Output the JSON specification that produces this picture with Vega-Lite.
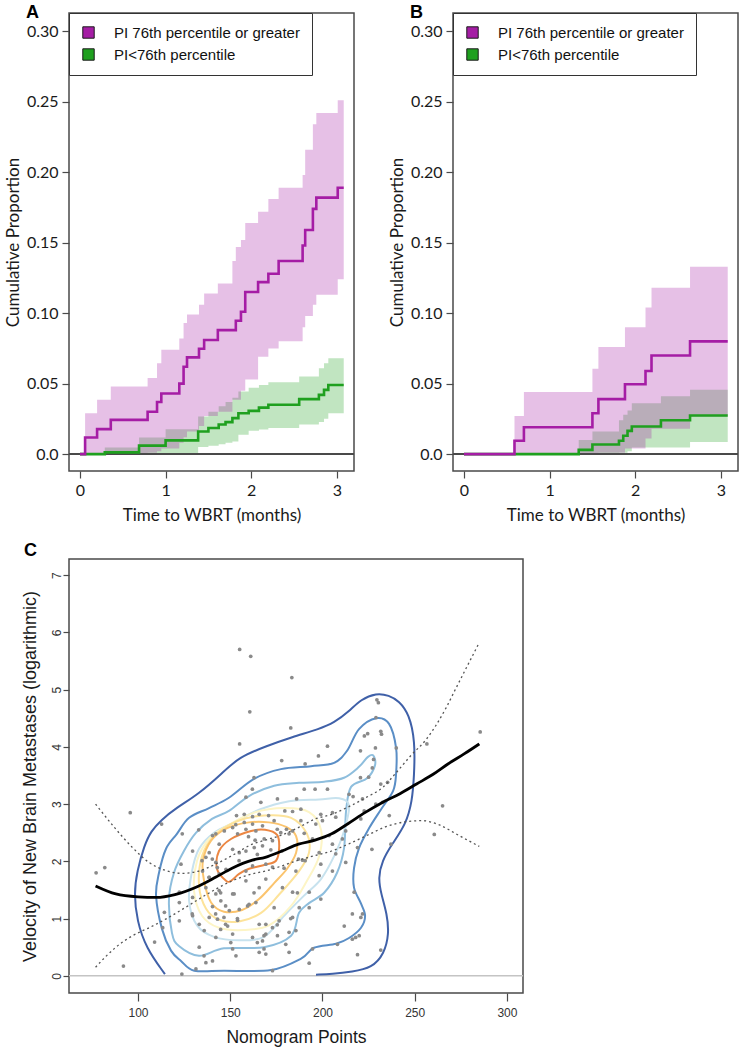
{
  "$schema": "https://vega.github.io/schema/vega-lite/v6.json",
  "background": "white",
  "padding": {"left": 3, "top": 2, "right": 2, "bottom": 2},
  "config": {
    "view": {"stroke": "#4a4a4a", "strokeWidth": 1.5},
    "axis": {"grid": false, "domain": false, "tickColor": "#4a4a4a", "tickWidth": 1.2, "labelColor": "#1a1a1a", "titleColor": "#1a1a1a", "titleFontWeight": "normal", "labelFlush": false, "labelOverlap": false},
    "title": {"fontWeight": "bold", "fontSize": 18, "font": "Liberation Sans", "color": "#000000", "anchor": "start", "frame": "group"},
    "legend": {"orient": "top-left", "offset": 0, "padding": 12, "strokeColor": "#333333", "fillColor": "white", "symbolType": "square", "symbolSize": 130, "symbolStrokeColor": "#1a1a1a", "symbolStrokeWidth": 1, "symbolOpacity": 1, "labelFont": "Liberation Sans", "labelFontSize": 15, "labelColor": "#111111", "labelLimit": 400, "rowPadding": 5, "labelOffset": 18}
  },
  "datasets": {
    "kmA": [
      {"g": "PI<76th percentile", "t": 0, "e": 0, "lo": 0, "hi": 0},
      {"g": "PI<76th percentile", "t": 0.29, "e": 0.0012, "lo": 0, "hi": 0.0047},
      {"g": "PI<76th percentile", "t": 0.69, "e": 0.006, "lo": 0, "hi": 0.0118},
      {"g": "PI<76th percentile", "t": 1.0, "e": 0.0097, "lo": 0, "hi": 0.0177},
      {"g": "PI<76th percentile", "t": 1.38, "e": 0.016, "lo": 0.005, "hi": 0.0267},
      {"g": "PI<76th percentile", "t": 1.5, "e": 0.0185, "lo": 0.006, "hi": 0.03},
      {"g": "PI<76th percentile", "t": 1.62, "e": 0.021, "lo": 0.007, "hi": 0.034},
      {"g": "PI<76th percentile", "t": 1.7, "e": 0.0227, "lo": 0.008, "hi": 0.037},
      {"g": "PI<76th percentile", "t": 1.78, "e": 0.0255, "lo": 0.009, "hi": 0.04},
      {"g": "PI<76th percentile", "t": 1.85, "e": 0.029, "lo": 0.0137, "hi": 0.0444},
      {"g": "PI<76th percentile", "t": 1.97, "e": 0.0307, "lo": 0.0165, "hi": 0.047},
      {"g": "PI<76th percentile", "t": 2.09, "e": 0.033, "lo": 0.0175, "hi": 0.049},
      {"g": "PI<76th percentile", "t": 2.2, "e": 0.035, "lo": 0.0185, "hi": 0.051},
      {"g": "PI<76th percentile", "t": 2.56, "e": 0.039, "lo": 0.021, "hi": 0.055},
      {"g": "PI<76th percentile", "t": 2.79, "e": 0.042, "lo": 0.0227, "hi": 0.061},
      {"g": "PI<76th percentile", "t": 2.85, "e": 0.0456, "lo": 0.025, "hi": 0.0645},
      {"g": "PI<76th percentile", "t": 2.9, "e": 0.049, "lo": 0.029, "hi": 0.068},
      {"g": "PI<76th percentile", "t": 3.08, "e": 0.049, "lo": 0.029, "hi": 0.068},
      {"g": "PI 76th percentile or greater", "t": 0, "e": 0, "lo": 0, "hi": 0},
      {"g": "PI 76th percentile or greater", "t": 0.06, "e": 0.0118, "lo": 0, "hi": 0.029},
      {"g": "PI 76th percentile or greater", "t": 0.2, "e": 0.0177, "lo": 0, "hi": 0.0385},
      {"g": "PI 76th percentile or greater", "t": 0.36, "e": 0.0243, "lo": 0, "hi": 0.048},
      {"g": "PI 76th percentile or greater", "t": 0.79, "e": 0.03, "lo": 0.001, "hi": 0.054},
      {"g": "PI 76th percentile or greater", "t": 0.9, "e": 0.037, "lo": 0.002, "hi": 0.0645},
      {"g": "PI 76th percentile or greater", "t": 0.95, "e": 0.043, "lo": 0.004, "hi": 0.074},
      {"g": "PI 76th percentile or greater", "t": 1.16, "e": 0.05, "lo": 0.008, "hi": 0.082},
      {"g": "PI 76th percentile or greater", "t": 1.21, "e": 0.062, "lo": 0.012, "hi": 0.093},
      {"g": "PI 76th percentile or greater", "t": 1.25, "e": 0.0686, "lo": 0.016, "hi": 0.099},
      {"g": "PI 76th percentile or greater", "t": 1.39, "e": 0.0747, "lo": 0.02, "hi": 0.106},
      {"g": "PI 76th percentile or greater", "t": 1.45, "e": 0.081, "lo": 0.027, "hi": 0.114},
      {"g": "PI 76th percentile or greater", "t": 1.61, "e": 0.088, "lo": 0.03, "hi": 0.121},
      {"g": "PI 76th percentile or greater", "t": 1.78, "e": 0.088, "lo": 0.0385, "hi": 0.137},
      {"g": "PI 76th percentile or greater", "t": 1.82, "e": 0.0946, "lo": 0.0385, "hi": 0.147},
      {"g": "PI 76th percentile or greater", "t": 1.88, "e": 0.101, "lo": 0.045, "hi": 0.152},
      {"g": "PI 76th percentile or greater", "t": 1.93, "e": 0.115, "lo": 0.053, "hi": 0.164},
      {"g": "PI 76th percentile or greater", "t": 2.08, "e": 0.122, "lo": 0.069, "hi": 0.172},
      {"g": "PI 76th percentile or greater", "t": 2.2, "e": 0.128, "lo": 0.075, "hi": 0.181},
      {"g": "PI 76th percentile or greater", "t": 2.32, "e": 0.137, "lo": 0.08, "hi": 0.189},
      {"g": "PI 76th percentile or greater", "t": 2.6, "e": 0.148, "lo": 0.09, "hi": 0.198},
      {"g": "PI 76th percentile or greater", "t": 2.63, "e": 0.159, "lo": 0.098, "hi": 0.216},
      {"g": "PI 76th percentile or greater", "t": 2.72, "e": 0.174, "lo": 0.106, "hi": 0.234},
      {"g": "PI 76th percentile or greater", "t": 2.76, "e": 0.182, "lo": 0.113, "hi": 0.242},
      {"g": "PI 76th percentile or greater", "t": 3.01, "e": 0.189, "lo": 0.124, "hi": 0.251},
      {"g": "PI 76th percentile or greater", "t": 3.08, "e": 0.189, "lo": 0.124, "hi": 0.251}
    ],
    "kmB": [
      {"g": "PI<76th percentile", "t": 0, "e": 0, "lo": 0, "hi": 0},
      {"g": "PI<76th percentile", "t": 1.34, "e": 0.003, "lo": 0, "hi": 0.01},
      {"g": "PI<76th percentile", "t": 1.5, "e": 0.0068, "lo": 0, "hi": 0.016},
      {"g": "PI<76th percentile", "t": 1.81, "e": 0.0095, "lo": 0.001, "hi": 0.024},
      {"g": "PI<76th percentile", "t": 1.86, "e": 0.013, "lo": 0.001, "hi": 0.028},
      {"g": "PI<76th percentile", "t": 1.91, "e": 0.0165, "lo": 0.002, "hi": 0.031},
      {"g": "PI<76th percentile", "t": 1.96, "e": 0.0196, "lo": 0.0047, "hi": 0.036},
      {"g": "PI<76th percentile", "t": 2.3, "e": 0.024, "lo": 0.0047, "hi": 0.041},
      {"g": "PI<76th percentile", "t": 2.64, "e": 0.0274, "lo": 0.0085, "hi": 0.0456},
      {"g": "PI<76th percentile", "t": 3.08, "e": 0.0274, "lo": 0.0085, "hi": 0.0456},
      {"g": "PI 76th percentile or greater", "t": 0, "e": 0, "lo": 0, "hi": 0},
      {"g": "PI 76th percentile or greater", "t": 0.59, "e": 0.0095, "lo": 0, "hi": 0.027},
      {"g": "PI 76th percentile or greater", "t": 0.7, "e": 0.019, "lo": 0, "hi": 0.044},
      {"g": "PI 76th percentile or greater", "t": 1.5, "e": 0.029, "lo": 0, "hi": 0.0605},
      {"g": "PI 76th percentile or greater", "t": 1.57, "e": 0.039, "lo": 0.001, "hi": 0.076},
      {"g": "PI 76th percentile or greater", "t": 1.88, "e": 0.0496, "lo": 0.004, "hi": 0.09},
      {"g": "PI 76th percentile or greater", "t": 2.12, "e": 0.059, "lo": 0.011, "hi": 0.104},
      {"g": "PI 76th percentile or greater", "t": 2.19, "e": 0.07, "lo": 0.018, "hi": 0.118},
      {"g": "PI 76th percentile or greater", "t": 2.64, "e": 0.08, "lo": 0.0267, "hi": 0.133},
      {"g": "PI 76th percentile or greater", "t": 3.08, "e": 0.08, "lo": 0.0267, "hi": 0.133}
    ],
    "pts": [
      {"x":158.5,"y":3.12},{"x":166.6,"y":3.03},{"x":175.6,"y":3.09},{"x":190.1,"y":3.26},{"x":196,"y":3.26},{"x":202.7,"y":3.26},{"x":214.4,"y":3.17},{"x":216.6,"y":3.13},{"x":221.7,"y":3.09},
      {"x":153.4,"y":2.8},{"x":157.6,"y":2.82},{"x":162.1,"y":2.78},{"x":165.7,"y":2.82},{"x":170.8,"y":2.8},{"x":179.6,"y":2.88},{"x":183.8,"y":2.87},{"x":188.3,"y":2.91},{"x":199.1,"y":2.82},{"x":205.4,"y":2.85},{"x":207.2,"y":2.77},{"x":222.6,"y":2.88},
      {"x":112.8,"y":2.65},{"x":132.9,"y":2.55},{"x":142.2,"y":2.48},{"x":146.8,"y":2.53},{"x":151.3,"y":2.59},{"x":157.6,"y":2.68},{"x":162.1,"y":2.65},{"x":158.5,"y":2.56},{"x":163.9,"y":2.53},{"x":167.5,"y":2.62},{"x":173.8,"y":2.71},{"x":180.5,"y":2.56},{"x":183.8,"y":2.53},{"x":188.3,"y":2.71},{"x":196.4,"y":2.65},{"x":200,"y":2.71},{"x":212.6,"y":2.53},
      {"x":124,"y":2.48},{"x":140.4,"y":2.45},{"x":144,"y":2.3},{"x":154,"y":2.48},{"x":159.9,"y":2.43},{"x":163.5,"y":2.37},{"x":168.4,"y":2.39},{"x":172.9,"y":2.36},{"x":177.4,"y":2.5},{"x":181.9,"y":2.48},{"x":190.1,"y":2.49},{"x":194.6,"y":2.39},{"x":203.6,"y":2.45},{"x":205.4,"y":2.3},{"x":210.8,"y":2.39},
      {"x":129.6,"y":2.18},{"x":134.7,"y":2.01},{"x":136.8,"y":2.07},{"x":138.6,"y":2.15},{"x":142.2,"y":1.98},{"x":151.3,"y":2.21},{"x":154.9,"y":2.15},{"x":158.5,"y":2.18},{"x":163,"y":2.24},{"x":167.5,"y":2.27},{"x":172,"y":2.2},{"x":178,"y":2.18},{"x":187,"y":2.04},{"x":189.2,"y":2.02},{"x":190.6,"y":2.01},{"x":198.2,"y":2.15},{"x":199.1,"y":1.95},{"x":207.2,"y":2.13},{"x":212.6,"y":1.98},{"x":219,"y":2.24},
      {"x":77.3,"y":1.8},{"x":82,"y":1.89},{"x":123.3,"y":1.95},{"x":135,"y":1.83},{"x":138.6,"y":1.72},{"x":144,"y":1.78},{"x":147.7,"y":1.86},{"x":158.5,"y":1.83},{"x":162.1,"y":1.92},{"x":169.3,"y":1.95},{"x":172.9,"y":1.9},{"x":179.2,"y":1.88},{"x":185.6,"y":1.83},{"x":198.2,"y":1.75},{"x":205.4,"y":1.83},
      {"x":122.4,"y":1.46},{"x":136.8,"y":1.54},{"x":142.2,"y":1.43},{"x":144,"y":1.49},{"x":151.3,"y":1.43},{"x":158.5,"y":1.66},{"x":165.7,"y":1.54},{"x":178.3,"y":1.54},{"x":183.8,"y":1.46},{"x":192.8,"y":1.46},{"x":199.1,"y":1.34},
      {"x":122.4,"y":1.28},{"x":129.6,"y":1.37},{"x":140.4,"y":1.21},{"x":144.9,"y":1.31},{"x":149.5,"y":1.14},{"x":154.9,"y":1.16},{"x":159.4,"y":1.22},{"x":163.9,"y":1.28},{"x":173.8,"y":1.19},{"x":187.4,"y":1.19},{"x":192.8,"y":1.19},{"x":221.7,"y":1.08},
      {"x":114.3,"y":1.11},{"x":122.4,"y":0.96},{"x":129.6,"y":1.05},{"x":133.2,"y":0.9},{"x":138.6,"y":1.02},{"x":143.1,"y":0.99},{"x":148.6,"y":0.87},{"x":154,"y":0.97},{"x":165.7,"y":0.9},{"x":169.3,"y":0.9},{"x":176.5,"y":0.96},{"x":183.8,"y":1.02},{"x":216.2,"y":1.08},{"x":220.8,"y":1.02},
      {"x":113.4,"y":0.84},{"x":109,"y":0.59},{"x":135.9,"y":0.79},{"x":142.2,"y":0.67},{"x":151.3,"y":0.73},{"x":162.1,"y":0.67},{"x":169.3,"y":0.73},{"x":172.9,"y":0.84},{"x":175.6,"y":0.7},{"x":181.9,"y":0.76},{"x":185.6,"y":0.79},{"x":218,"y":0.67},{"x":219.9,"y":0.7},
      {"x":92.1,"y":0.17},{"x":133.2,"y":0.5},{"x":136.8,"y":0.23},{"x":140.4,"y":0.26},{"x":151.3,"y":0.47},{"x":153.1,"y":0.35},{"x":165.7,"y":0.41},{"x":169.3,"y":0.38},{"x":167.5,"y":0.61},{"x":180.1,"y":0.55},{"x":192.8,"y":0.22},{"x":194.6,"y":0.47},{"x":208.1,"y":0.55},{"x":216.2,"y":0.64},
      {"x":123.8,"y":0.03},{"x":131.4,"y":0.12},{"x":172.9,"y":0.09},{"x":95.8,"y":2.85},
      {"x":231.6,"y":3.35},{"x":235.3,"y":3.38},{"x":228.9,"y":3.0},{"x":232.5,"y":3.03},{"x":236.2,"y":2.8},{"x":265.1,"y":2.97},{"x":260.6,"y":2.47},{"x":237.1,"y":2.3},{"x":226.8,"y":2.21},{"x":231.6,"y":0.45},{"x":211.8,"y":0.87},{"x":217.2,"y":1.46},{"x":219,"y":0.37},
      {"x":229.5,"y":4.82},{"x":230.3,"y":4.77},{"x":229,"y":4.51},{"x":222.7,"y":4.19},{"x":224.5,"y":4.23},{"x":231.6,"y":4.27},{"x":232,"y":4.22},{"x":202.7,"y":4.01},{"x":220.6,"y":3.93},{"x":228.7,"y":3.98},{"x":197.8,"y":3.84},{"x":190.6,"y":3.7},{"x":227.7,"y":3.78},{"x":227,"y":3.63},{"x":240,"y":3.98},{"x":256.6,"y":4.05},{"x":285.5,"y":4.26},{"x":220.6,"y":3.46},{"x":225,"y":3.47},
      {"x":155.1,"y":5.7},{"x":161.1,"y":5.58},{"x":183.4,"y":5.21},{"x":160.6,"y":4.61},{"x":182.8,"y":4.33},{"x":155.1,"y":4.05},{"x":177.9,"y":3.76},{"x":162.9,"y":3.46},{"x":162,"y":3.26},
      {"x":147.5,"y":0.9},{"x":144.8,"y":0.81},{"x":146.6,"y":1.02},{"x":142.1,"y":1.08},{"x":147.5,"y":1.22},{"x":135.8,"y":0.35},{"x":140.3,"y":2.04},{"x":143,"y":1.89},{"x":138.5,"y":1.72},{"x":144.8,"y":1.45},{"x":129.4,"y":1.08},
      {"x":164.7,"y":2.12},{"x":154.8,"y":2.01},{"x":169.3,"y":1.69},{"x":186.4,"y":1.45},{"x":152.1,"y":1.43},{"x":162.9,"y":1.45},{"x":160.2,"y":1.25},{"x":153.9,"y":1.0},{"x":175.5,"y":0.89},{"x":168.3,"y":0.7},{"x":164.7,"y":0.58},{"x":150.3,"y":0.58},{"x":168.3,"y":0.47},{"x":181.9,"y":0.41},{"x":182.8,"y":1.0},
      {"x":186,"y":3.09},{"x":153,"y":2.64},{"x":175.5,"y":2.56},{"x":220.8,"y":2.74}
    ],
    "fit": [
      {"s":"fit","x":77,"y":1.57},{"s":"fit","x":88,"y":1.43},{"s":"fit","x":100,"y":1.38},{"s":"fit","x":110,"y":1.37},{"s":"fit","x":120,"y":1.42},{"s":"fit","x":133,"y":1.57},{"s":"fit","x":142,"y":1.72},{"s":"fit","x":151,"y":1.88},{"s":"fit","x":162,"y":2.02},{"s":"fit","x":169,"y":2.07},{"s":"fit","x":178,"y":2.18},{"s":"fit","x":187,"y":2.3},{"s":"fit","x":196,"y":2.37},{"s":"fit","x":205,"y":2.48},{"s":"fit","x":214,"y":2.66},{"s":"fit","x":223,"y":2.85},{"s":"fit","x":232,"y":3.02},{"s":"fit","x":242,"y":3.18},{"s":"fit","x":251,"y":3.35},{"s":"fit","x":260,"y":3.52},{"s":"fit","x":268,"y":3.7},{"s":"fit","x":277,"y":3.88},{"s":"fit","x":285,"y":4.05},
      {"s":"hi","x":77,"y":3.0},{"s":"hi","x":87,"y":2.6},{"s":"hi","x":97,"y":2.24},{"s":"hi","x":106,"y":1.98},{"s":"hi","x":115,"y":1.84},{"s":"hi","x":124,"y":1.79},{"s":"hi","x":133,"y":1.83},{"s":"hi","x":142,"y":1.95},{"s":"hi","x":151,"y":2.1},{"s":"hi","x":162,"y":2.3},{"s":"hi","x":169,"y":2.37},{"s":"hi","x":178,"y":2.46},{"s":"hi","x":187,"y":2.59},{"s":"hi","x":196,"y":2.74},{"s":"hi","x":205,"y":2.82},{"s":"hi","x":214,"y":2.95},{"s":"hi","x":224,"y":3.12},{"s":"hi","x":233,"y":3.3},{"s":"hi","x":240,"y":3.55},{"s":"hi","x":248,"y":3.85},{"s":"hi","x":256,"y":4.12},{"s":"hi","x":262,"y":4.4},{"s":"hi","x":267,"y":4.68},{"s":"hi","x":272,"y":5.0},{"s":"hi","x":278,"y":5.38},{"s":"hi","x":285,"y":5.82},
      {"s":"lo","x":77,"y":0.15},{"s":"lo","x":88,"y":0.5},{"s":"lo","x":97,"y":0.7},{"s":"lo","x":106,"y":0.84},{"s":"lo","x":115,"y":0.99},{"s":"lo","x":124,"y":1.16},{"s":"lo","x":133,"y":1.34},{"s":"lo","x":142,"y":1.51},{"s":"lo","x":151,"y":1.66},{"s":"lo","x":162,"y":1.78},{"s":"lo","x":169,"y":1.83},{"s":"lo","x":178,"y":1.92},{"s":"lo","x":187,"y":2.02},{"s":"lo","x":196,"y":2.1},{"s":"lo","x":205,"y":2.18},{"s":"lo","x":214,"y":2.3},{"s":"lo","x":224,"y":2.45},{"s":"lo","x":234,"y":2.6},{"s":"lo","x":245,"y":2.69},{"s":"lo","x":254,"y":2.71},{"s":"lo","x":263,"y":2.64},{"s":"lo","x":274,"y":2.45},{"s":"lo","x":285,"y":2.26}
    ],
    "cont": [
      {"l":1,"o":1,"x":114.6,"y":0.03},{"l":1,"o":2,"x":104.3,"y":0.49},{"l":1,"o":3,"x":99.5,"y":0.96},{"l":1,"o":4,"x":97.8,"y":1.43},{"l":1,"o":5,"x":99.5,"y":1.83},{"l":1,"o":6,"x":103.3,"y":2.27},{"l":1,"o":7,"x":107.1,"y":2.53},{"l":1,"o":8,"x":112.5,"y":2.72},{"l":1,"o":9,"x":120.6,"y":2.93},{"l":1,"o":10,"x":133.1,"y":3.18},{"l":1,"o":11,"x":145.6,"y":3.54},{"l":1,"o":12,"x":154.8,"y":3.82},{"l":1,"o":13,"x":169.4,"y":4.01},{"l":1,"o":14,"x":183.5,"y":4.17},{"l":1,"o":15,"x":198.2,"y":4.31},{"l":1,"o":16,"x":206.3,"y":4.42},{"l":1,"o":17,"x":214.4,"y":4.62},{"l":1,"o":18,"x":220.9,"y":4.83},{"l":1,"o":19,"x":229.1,"y":4.94},{"l":1,"o":20,"x":236.1,"y":4.9},{"l":1,"o":21,"x":241.5,"y":4.8},{"l":1,"o":22,"x":247,"y":4.57},{"l":1,"o":23,"x":250.2,"y":4.1},{"l":1,"o":24,"x":249.7,"y":3.49},{"l":1,"o":25,"x":248.6,"y":3.05},{"l":1,"o":26,"x":245.3,"y":2.65},{"l":1,"o":27,"x":237.7,"y":2.3},{"l":1,"o":28,"x":232.3,"y":2.01},{"l":1,"o":29,"x":230.2,"y":1.71},{"l":1,"o":30,"x":231.8,"y":1.43},{"l":1,"o":31,"x":235,"y":1.08},{"l":1,"o":32,"x":236.1,"y":0.73},{"l":1,"o":33,"x":233.4,"y":0.38},{"l":1,"o":34,"x":226.9,"y":0.14},{"l":1,"o":35,"x":216.1,"y":0.07},{"l":1,"o":36,"x":205.2,"y":0.03},{"l":1,"o":37,"x":196.5,"y":0.02},
      {"l":2,"o":1,"x":130.5,"y":0.09},{"l":2,"o":2,"x":123.3,"y":0.26},{"l":2,"o":3,"x":117.9,"y":0.44},{"l":2,"o":4,"x":113,"y":0.82},{"l":2,"o":5,"x":109.8,"y":1.4},{"l":2,"o":6,"x":111.4,"y":1.8},{"l":2,"o":7,"x":115.2,"y":2.22},{"l":2,"o":8,"x":121.1,"y":2.48},{"l":2,"o":9,"x":127.7,"y":2.76},{"l":2,"o":10,"x":138.5,"y":2.93},{"l":2,"o":11,"x":149.3,"y":3.11},{"l":2,"o":12,"x":162.9,"y":3.44},{"l":2,"o":13,"x":177.5,"y":3.61},{"l":2,"o":14,"x":193.8,"y":3.66},{"l":2,"o":15,"x":206.3,"y":3.72},{"l":2,"o":16,"x":213.3,"y":3.93},{"l":2,"o":17,"x":219.8,"y":4.31},{"l":2,"o":18,"x":229.1,"y":4.5},{"l":2,"o":19,"x":236.1,"y":4.4},{"l":2,"o":20,"x":239.9,"y":3.98},{"l":2,"o":21,"x":239.9,"y":3.53},{"l":2,"o":22,"x":238.3,"y":3.23},{"l":2,"o":23,"x":231.8,"y":2.91},{"l":2,"o":24,"x":225.3,"y":2.58},{"l":2,"o":25,"x":219.8,"y":2.23},{"l":2,"o":26,"x":217.1,"y":1.88},{"l":2,"o":27,"x":217.1,"y":1.54},{"l":2,"o":28,"x":220.9,"y":1.26},{"l":2,"o":29,"x":223.1,"y":1.05},{"l":2,"o":30,"x":220.9,"y":0.84},{"l":2,"o":31,"x":214.4,"y":0.66},{"l":2,"o":32,"x":207.4,"y":0.56},{"l":2,"o":33,"x":195.4,"y":0.49},{"l":2,"o":34,"x":188.4,"y":0.3},{"l":2,"o":35,"x":172.1,"y":0.1},{"l":2,"o":36,"x":146.6,"y":0.09},
      {"l":3,"o":1,"x":133.1,"y":0.35},{"l":3,"o":2,"x":122.2,"y":0.52},{"l":3,"o":3,"x":118.4,"y":0.75},{"l":3,"o":4,"x":116.8,"y":1.34},{"l":3,"o":5,"x":119.5,"y":1.8},{"l":3,"o":6,"x":124.9,"y":2.18},{"l":3,"o":7,"x":131.5,"y":2.5},{"l":3,"o":8,"x":140.1,"y":2.74},{"l":3,"o":9,"x":149.3,"y":2.88},{"l":3,"o":10,"x":160.2,"y":3.14},{"l":3,"o":11,"x":173.8,"y":3.32},{"l":3,"o":12,"x":187.3,"y":3.37},{"l":3,"o":13,"x":200.9,"y":3.39},{"l":3,"o":14,"x":211.7,"y":3.46},{"l":3,"o":15,"x":219.8,"y":3.65},{"l":3,"o":16,"x":224.5,"y":3.82},{"l":3,"o":17,"x":227.5,"y":3.85},{"l":3,"o":18,"x":228.5,"y":3.68},{"l":3,"o":19,"x":224.2,"y":3.45},{"l":3,"o":20,"x":215.5,"y":3.3},{"l":3,"o":21,"x":212.8,"y":2.88},{"l":3,"o":22,"x":211.7,"y":2.23},{"l":3,"o":23,"x":207.9,"y":1.8},{"l":3,"o":24,"x":200.9,"y":1.45},{"l":3,"o":25,"x":192.7,"y":1.27},{"l":3,"o":26,"x":187.3,"y":1.1},{"l":3,"o":27,"x":183,"y":0.7},{"l":3,"o":28,"x":168.3,"y":0.5},{"l":3,"o":29,"x":146.6,"y":0.48},
      {"l":4,"o":1,"x":127.7,"y":1.31},{"l":4,"o":2,"x":129.3,"y":1.83},{"l":4,"o":3,"x":133.1,"y":2.22},{"l":4,"o":4,"x":141.2,"y":2.5},{"l":4,"o":5,"x":152.1,"y":2.68},{"l":4,"o":6,"x":165.6,"y":2.9},{"l":4,"o":7,"x":181.9,"y":3.05},{"l":4,"o":8,"x":198.2,"y":3.08},{"l":4,"o":9,"x":209,"y":3.1},{"l":4,"o":10,"x":214.4,"y":2.97},{"l":4,"o":11,"x":211.7,"y":2.53},{"l":4,"o":12,"x":206.3,"y":2.09},{"l":4,"o":13,"x":199.2,"y":1.69},{"l":4,"o":14,"x":190,"y":1.4},{"l":4,"o":15,"x":179.2,"y":1.05},{"l":4,"o":16,"x":168.3,"y":0.68},{"l":4,"o":17,"x":154.8,"y":0.62},{"l":4,"o":18,"x":141.2,"y":0.68},{"l":4,"o":19,"x":132,"y":0.88},
      {"l":5,"o":1,"x":130.4,"y":1.48},{"l":5,"o":2,"x":132,"y":2.01},{"l":5,"o":3,"x":138.5,"y":2.39},{"l":5,"o":4,"x":148.3,"y":2.62},{"l":5,"o":5,"x":162.9,"y":2.85},{"l":5,"o":6,"x":179.2,"y":2.93},{"l":5,"o":7,"x":192.7,"y":2.86},{"l":5,"o":8,"x":199.2,"y":2.55},{"l":5,"o":9,"x":198.2,"y":2.09},{"l":5,"o":10,"x":191.6,"y":1.66},{"l":5,"o":11,"x":183,"y":1.22},{"l":5,"o":12,"x":171,"y":0.88},{"l":5,"o":13,"x":157.5,"y":0.8},{"l":5,"o":14,"x":143.9,"y":0.84},{"l":5,"o":15,"x":134.7,"y":1.05},
      {"l":6,"o":1,"x":133.1,"y":1.57},{"l":6,"o":2,"x":134.7,"y":2.09},{"l":6,"o":3,"x":141.2,"y":2.44},{"l":6,"o":4,"x":153.7,"y":2.7},{"l":6,"o":5,"x":168.3,"y":2.8},{"l":6,"o":6,"x":183,"y":2.76},{"l":6,"o":7,"x":191.6,"y":2.48},{"l":6,"o":8,"x":192.7,"y":2.15},{"l":6,"o":9,"x":187.3,"y":1.83},{"l":6,"o":10,"x":176.5,"y":1.42},{"l":6,"o":11,"x":166.7,"y":1.1},{"l":6,"o":12,"x":154.8,"y":0.95},{"l":6,"o":13,"x":143.9,"y":0.98},{"l":6,"o":14,"x":136.9,"y":1.17},
      {"l":7,"o":1,"x":135.8,"y":1.66},{"l":7,"o":2,"x":135.2,"y":2.01},{"l":7,"o":3,"x":139.6,"y":2.36},{"l":7,"o":4,"x":148.3,"y":2.58},{"l":7,"o":5,"x":160.2,"y":2.68},{"l":7,"o":6,"x":171,"y":2.68},{"l":7,"o":7,"x":180.3,"y":2.6},{"l":7,"o":8,"x":185.7,"y":2.44},{"l":7,"o":9,"x":185.7,"y":2.15},{"l":7,"o":10,"x":180.8,"y":1.87},{"l":7,"o":11,"x":173.8,"y":1.62},{"l":7,"o":12,"x":165.6,"y":1.34},{"l":7,"o":13,"x":156.4,"y":1.15},{"l":7,"o":14,"x":146.6,"y":1.12},{"l":7,"o":15,"x":139.6,"y":1.28},
      {"l":8,"o":1,"x":147.7,"y":1.66},{"l":8,"o":2,"x":142.8,"y":1.87},{"l":8,"o":3,"x":143.9,"y":2.18},{"l":8,"o":4,"x":150.4,"y":2.39},{"l":8,"o":5,"x":161.3,"y":2.53},{"l":8,"o":6,"x":168.9,"y":2.55},{"l":8,"o":7,"x":175.4,"y":2.46},{"l":8,"o":8,"x":176.5,"y":2.23},{"l":8,"o":9,"x":174.8,"y":2.01},{"l":8,"o":10,"x":168.9,"y":1.94},{"l":8,"o":11,"x":160.2,"y":1.87},{"l":8,"o":12,"x":154.8,"y":1.78},{"l":8,"o":13,"x":150.4,"y":1.66}
    ]
  },
  "spacing": 17,
  "vconcat": [
    {
      "spacing": 31,
      "resolve": {"scale": {"fill": "independent"}, "legend": {"fill": "independent"}},
      "hconcat": [
        {
          "width": 285, "height": 458,
          "title": {"text": "A", "dx": -43, "offset": -9},
          "data": {"name": "kmA"},
          "layer": [
            {
              "mark": {"type": "area", "interpolate": "step-after", "fillOpacity": 0.28},
              "encoding": {
                "x": {"field": "t", "type": "quantitative", "scale": {"domain": [-0.128, 3.2], "nice": false, "zero": false}, "axis": {"values": [0, 1, 2, 3], "format": "d", "title": "Time to WBRT (months)", "labelFont": "Lato", "labelFontSize": 16, "titleFont": "Lato", "titleFontSize": 17, "tickSize": 7, "labelPadding": 4, "titlePadding": 9}},
                "y": {"field": "lo", "type": "quantitative", "scale": {"domain": [-0.012, 0.313], "nice": false, "zero": false}, "axis": {"values": [0, 0.05, 0.1, 0.15, 0.2, 0.25, 0.3], "labelExpr": "datum.value == 0 ? '0.0' : format(datum.value, '.2f')", "title": "Cumulative Proportion", "labelFont": "Lato", "labelFontSize": 16, "titleFont": "Lato", "titleFontSize": 17, "tickSize": 7, "labelPadding": 4, "titlePadding": 4}},
                "y2": {"field": "hi"},
                "fill": {"field": "g", "type": "nominal", "scale": {"domain": ["PI 76th percentile or greater", "PI<76th percentile"], "range": ["#A51DA5", "#1FA01F"]}, "legend": {"title": null}}
              }
            },
            {"mark": {"type": "rule", "color": "#4a4a4a", "strokeWidth": 1.2}, "encoding": {"y": {"datum": 0}}},
            {
              "transform": [{"filter": "datum.g == 'PI<76th percentile'"}],
              "mark": {"type": "line", "interpolate": "step-after", "color": "#1FA01F", "strokeWidth": 2.6},
              "encoding": {"x": {"field": "t", "type": "quantitative"}, "y": {"field": "e", "type": "quantitative"}}
            },
            {
              "transform": [{"filter": "datum.g == 'PI 76th percentile or greater'"}],
              "mark": {"type": "line", "interpolate": "step-after", "color": "#A51DA5", "strokeWidth": 2.6},
              "encoding": {"x": {"field": "t", "type": "quantitative"}, "y": {"field": "e", "type": "quantitative"}}
            }
          ]
        },
        {
          "width": 285, "height": 458,
          "title": {"text": "B", "dx": -43, "offset": -9},
          "data": {"name": "kmB"},
          "layer": [
            {
              "mark": {"type": "area", "interpolate": "step-after", "fillOpacity": 0.28},
              "encoding": {
                "x": {"field": "t", "type": "quantitative", "scale": {"domain": [-0.128, 3.2], "nice": false, "zero": false}, "axis": {"values": [0, 1, 2, 3], "format": "d", "title": "Time to WBRT (months)", "labelFont": "Lato", "labelFontSize": 16, "titleFont": "Lato", "titleFontSize": 17, "tickSize": 7, "labelPadding": 4, "titlePadding": 9}},
                "y": {"field": "lo", "type": "quantitative", "scale": {"domain": [-0.012, 0.313], "nice": false, "zero": false}, "axis": {"values": [0, 0.05, 0.1, 0.15, 0.2, 0.25, 0.3], "labelExpr": "datum.value == 0 ? '0.0' : format(datum.value, '.2f')", "title": "Cumulative Proportion", "labelFont": "Lato", "labelFontSize": 16, "titleFont": "Lato", "titleFontSize": 17, "tickSize": 7, "labelPadding": 4, "titlePadding": 4}},
                "y2": {"field": "hi"},
                "fill": {"field": "g", "type": "nominal", "scale": {"domain": ["PI 76th percentile or greater", "PI<76th percentile"], "range": ["#A51DA5", "#1FA01F"]}, "legend": {"title": null}}
              }
            },
            {"mark": {"type": "rule", "color": "#4a4a4a", "strokeWidth": 1.2}, "encoding": {"y": {"datum": 0}}},
            {
              "transform": [{"filter": "datum.g == 'PI<76th percentile'"}],
              "mark": {"type": "line", "interpolate": "step-after", "color": "#1FA01F", "strokeWidth": 2.6},
              "encoding": {"x": {"field": "t", "type": "quantitative"}, "y": {"field": "e", "type": "quantitative"}}
            },
            {
              "transform": [{"filter": "datum.g == 'PI 76th percentile or greater'"}],
              "mark": {"type": "line", "interpolate": "step-after", "color": "#A51DA5", "strokeWidth": 2.6},
              "encoding": {"x": {"field": "t", "type": "quantitative"}, "y": {"field": "e", "type": "quantitative"}}
            }
          ]
        }
      ]
    },
    {
      "width": 454, "height": 434,
      "title": {"text": "C", "dx": -45, "offset": -1},
      "layer": [
        {"data": {"values": [{"v": 0}]}, "mark": {"type": "rule", "color": "#c4c4c4", "strokeWidth": 1.5}, "encoding": {"y": {"datum": 0}}},
        {
          "data": {"name": "cont"},
          "transform": [{"filter": "datum.l == 1"}],
          "mark": {"type": "line", "interpolate": "basis", "color": "#3F60A8", "strokeWidth": 2},
          "encoding": {
            "x": {"field": "x", "type": "quantitative", "scale": {"domain": [62.6, 308.7], "nice": false, "zero": false}, "axis": {"values": [100, 150, 200, 250, 300], "title": "Nomogram Points", "labelFont": "Liberation Sans", "labelFontSize": 12, "labelColor": "#333333", "titleFont": "Liberation Sans", "titleFontSize": 17.5, "tickSize": 8, "labelPadding": 6, "titlePadding": 10}},
            "y": {"field": "y", "type": "quantitative", "scale": {"domain": [-0.3, 7.28], "nice": false, "zero": false}, "axis": {"values": [0, 1, 2, 3, 4, 5, 6, 7], "format": "d", "title": "Velocity of New Brain Metastases (logarithmic)", "labelAngle": -90, "labelFont": "Liberation Sans", "labelFontSize": 12, "labelColor": "#333333", "titleFont": "Liberation Sans", "titleFontSize": 18, "tickSize": 6, "labelPadding": 0, "titlePadding": 11}},
            "order": {"field": "o", "type": "quantitative"}
          }
        },
        {
          "data": {"name": "cont"},
          "transform": [{"filter": "datum.l > 1"}],
          "mark": {"type": "line", "interpolate": "cardinal-closed", "strokeWidth": 2},
          "encoding": {
            "x": {"field": "x", "type": "quantitative"},
            "y": {"field": "y", "type": "quantitative"},
            "color": {"field": "l", "type": "nominal", "scale": {"domain": [2, 3, 4, 5, 6, 7, 8], "range": ["#5A8EC6", "#8EBEDD", "#C7E2EE", "#FDF5C6", "#FDE39A", "#FBC46E", "#EC8743"]}, "legend": null},
            "order": {"field": "o", "type": "quantitative"}
          }
        },
        {
          "data": {"name": "pts"},
          "mark": {"type": "circle", "size": 14, "color": "#8a8a8a", "opacity": 1},
          "encoding": {"x": {"field": "x", "type": "quantitative"}, "y": {"field": "y", "type": "quantitative"}}
        },
        {
          "data": {"name": "fit"},
          "transform": [{"filter": "datum.s != 'fit'"}],
          "mark": {"type": "line", "interpolate": "monotone", "strokeDash": [2, 3], "color": "#555555", "strokeWidth": 1.3},
          "encoding": {"x": {"field": "x", "type": "quantitative"}, "y": {"field": "y", "type": "quantitative"}, "detail": {"field": "s"}}
        },
        {
          "data": {"name": "fit"},
          "transform": [{"filter": "datum.s == 'fit'"}],
          "mark": {"type": "line", "interpolate": "monotone", "color": "#000000", "strokeWidth": 2.8},
          "encoding": {"x": {"field": "x", "type": "quantitative"}, "y": {"field": "y", "type": "quantitative"}}
        }
      ]
    }
  ]
}
